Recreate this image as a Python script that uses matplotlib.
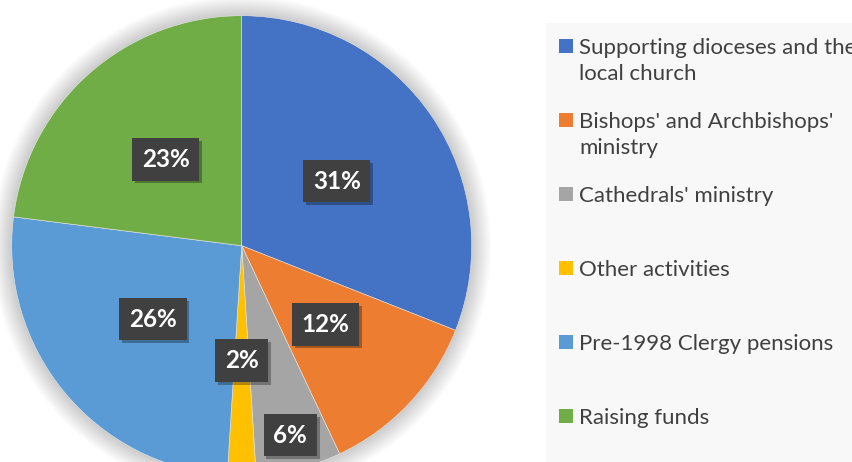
import matplotlib.pyplot as plt
import numpy as np
from matplotlib.patches import Rectangle, Circle
from matplotlib import patheffects

# data
labels = ["Supporting dioceses and the\nlocal church",
          "Bishops' and Archbishops'\nministry",
          "Cathedrals' ministry",
          "Other activities",
          "Pre-1998 Clergy pensions",
          "Raising funds"]
shares = [31, 12, 6, 2, 26, 23]
colors = ["#4472C4", "#ED7D31", "#A5A5A5", "#FFC000", "#5B9BD5", "#70AD47"]
label_dist = [0.5, 0.5, 0.85, 0.5, 0.5, 0.5]

W, H = 853, 462
fig = plt.figure(figsize=(W / 100, H / 100), dpi=100)
fig.patch.set_facecolor("white")

# legend panel background
fig.patches.append(Rectangle((546 / W, 0), 1 - 546 / W, (H - 23) / H,
                             transform=fig.transFigure, facecolor="#f8f8f8",
                             edgecolor="none", zorder=0))

# pie axes: centre (241.7, 245.7) px, radius 230 px
cx, cy, r = 241.7, 245.7, 230
ax = fig.add_axes([(cx - r) / W, (H - cy - r) / H, 2 * r / W, 2 * r / H])

# soft shadow
for i in range(18):
    ax.add_patch(Circle((0, 0), 1 + 0.005 * i, color="black", alpha=0.011,
                        lw=0, zorder=0, clip_on=False))

wedges, texts, autotexts = ax.pie(shares, colors=colors, startangle=90,
                                  counterclock=False, radius=1,
                                  autopct="%1.0f%%", pctdistance=0.5,
                                  wedgeprops=dict(linewidth=0.4, edgecolor="#e8e8e8"))
ax.set_xlim(-1, 1)
ax.set_ylim(-1, 1)
ax.set_aspect("auto")
ax.axis("off")

for w, t, d in zip(wedges, autotexts, label_dist):
    ang = np.deg2rad((w.theta1 + w.theta2) / 2)
    t.set_position((d * np.cos(ang), d * np.sin(ang)))
    t.set_family("Lato")
    t.set_weight("bold")
    t.set_fontsize(17.5)
    t.set_color("white")
    t.set_bbox(dict(boxstyle="square,pad=0.4", facecolor="#404040", edgecolor="none"))
    t.get_bbox_patch().set_path_effects([
        patheffects.withSimplePatchShadow(offset=(2, -2), shadow_rgbFace="black", alpha=0.3),
        patheffects.Normal()])

# legend
sq = 14
y0, step = 46, 74
for i, (lab, col) in enumerate(zip(labels, colors)):
    yc = y0 + i * step
    fig.patches.append(Rectangle((559 / W, (H - yc - sq / 2) / H), sq / W, sq / H,
                                 transform=fig.transFigure, facecolor=col,
                                 edgecolor="none"))
    for j, line in enumerate(lab.split("\n")):
        fig.text(579 / W, (H - (yc + 7.5 + 27 * j)) / H, line, family="Lato",
                 fontsize=16, color="#404040", va="baseline", ha="left")

fig.savefig("out.png", dpi=100)
